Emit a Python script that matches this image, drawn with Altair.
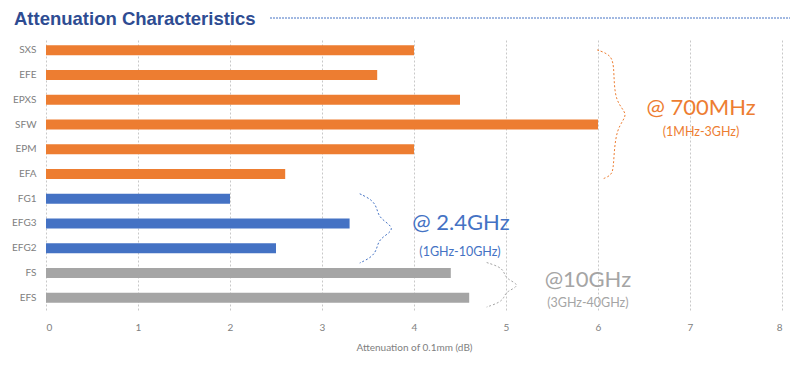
import altair as alt
import pandas as pd

materials = ["SXS", "EFE", "EPXS", "SFW", "EPM", "EFA", "FG1", "EFG3", "EFG2", "FS", "EFS"]
attenuation = [4.0, 3.6, 4.5, 6.0, 4.0, 2.6, 2.0, 3.3, 2.5, 4.4, 4.6]
bands = ["700MHz"] * 6 + ["2.4GHz"] * 3 + ["10GHz"] * 2

band_names = ["700MHz", "2.4GHz", "10GHz"]
band_colors = ["#ED7D31", "#4472C4", "#A5A5A5"]

# brace outlines (x in dB units, y in row units from top)
brace_band = ["700MHz"] * 9 + ["2.4GHz"] * 9 + ["10GHz"] * 9
brace_x = [5.99, 6.12, 6.18, 6.17, 6.35, 6.19, 6.17, 6.15, 6.05,
           3.41, 3.55, 3.60, 3.62, 3.82, 3.62, 3.60, 3.55, 3.41,
           4.79, 4.93, 4.98, 5.00, 5.17, 5.00, 4.98, 4.93, 4.79]
brace_y = [0.48, 0.65, 1.0, 2.6, 3.09, 3.6, 5.2, 5.55, 5.7,
           6.3, 6.55, 6.9, 7.3, 7.72, 8.1, 8.5, 8.85, 9.1,
           9.08, 9.25, 9.45, 9.75, 10.0, 10.25, 10.5, 10.7, 10.88]

label_text = ["@ 700MHz", "(1MHz-3GHz)", "@ 2.4GHz", "(1GHz-10GHz)", "@10GHz", "(3GHz-40GHz)"]
label_band = ["700MHz", "700MHz", "2.4GHz", "2.4GHz", "10GHz", "10GHz"]
label_x = [7.12, 7.12, 4.51, 4.50, 5.89, 5.89]
label_y = [2.85, 3.8, 7.47, 8.65, 9.8, 10.7]
label_size = [22, 12.5, 22, 12.5, 22, 12.5]

bars_df = pd.DataFrame({"material": materials, "value": attenuation, "band": bands})
brace_df = pd.DataFrame({"band": brace_band, "x": brace_x, "y": brace_y,
                         "i": list(range(len(brace_x)))})
lab_df = pd.DataFrame({"text": label_text, "band": label_band, "x": label_x,
                       "y": label_y, "size": label_size})

color = alt.Color("band:N", scale=alt.Scale(domain=band_names, range=band_colors), legend=None)
xscale = alt.Scale(domain=[0, 8])

bars = alt.Chart(bars_df).mark_bar(size=10).encode(
    x=alt.X("value:Q", scale=xscale,
            axis=alt.Axis(title="Attenuation of 0.1mm (dB)", tickCount=8, grid=True,
                          gridDash=[2, 2], gridColor="#c8c8c8", domain=False, ticks=False,
                          labelColor="#808080", labelFontSize=10, labelPadding=12,
                          titleColor="#808080", titleFontSize=10, titleFontWeight="normal",
                          titlePadding=10, labelFont="Lato", titleFont="Lato")),
    y=alt.Y("material:N", sort=materials,
            axis=alt.Axis(title=None, domain=False, ticks=False, labelColor="#808080",
                          labelFontSize=10, labelPadding=10, labelFont="Lato")),
    color=color,
)

yq = alt.Scale(domain=[0, 11], reverse=True)

braces = alt.Chart(brace_df).mark_line(strokeDash=[2, 2], strokeWidth=1, interpolate="basis").encode(
    x=alt.X("x:Q", scale=xscale),
    y=alt.Y("y:Q", scale=yq, axis=None),
    order=alt.Order("i:Q"),
    detail="band:N",
    color=color,
)

labels = alt.Chart(lab_df).mark_text(font="Lato", align="center", baseline="middle").encode(
    x=alt.X("x:Q", scale=xscale),
    y=alt.Y("y:Q", scale=yq, axis=None),
    text="text:N",
    size=alt.Size("size:Q", scale=None, legend=None),
    color=color,
)

title = alt.Chart(pd.DataFrame({"t": ["Attenuation Characteristics"]})).mark_text(
    font="Liberation Sans", fontWeight="bold", fontSize=18.5, color="#2E4C92",
    align="left", baseline="middle"
).encode(x=alt.value(-32), y=alt.value(-19), text="t:N")

title_rule = alt.Chart(pd.DataFrame({"a": [0]})).mark_rule(
    color="#4472C4", strokeDash=[2, 1], strokeWidth=1
).encode(x=alt.value(224), x2=alt.value(744), y=alt.value(-20))

chart = alt.layer(bars, braces, labels, title, title_rule).resolve_scale(
    y="independent"
).properties(
    width=736, height=272,
    autosize=alt.AutoSizeParams(type="none"),
    padding={"left": 38, "top": 30, "right": 10, "bottom": 50},
).configure_view(stroke=None)

chart.save("out.html", embed_options={"renderer": "svg", "actions": False})
